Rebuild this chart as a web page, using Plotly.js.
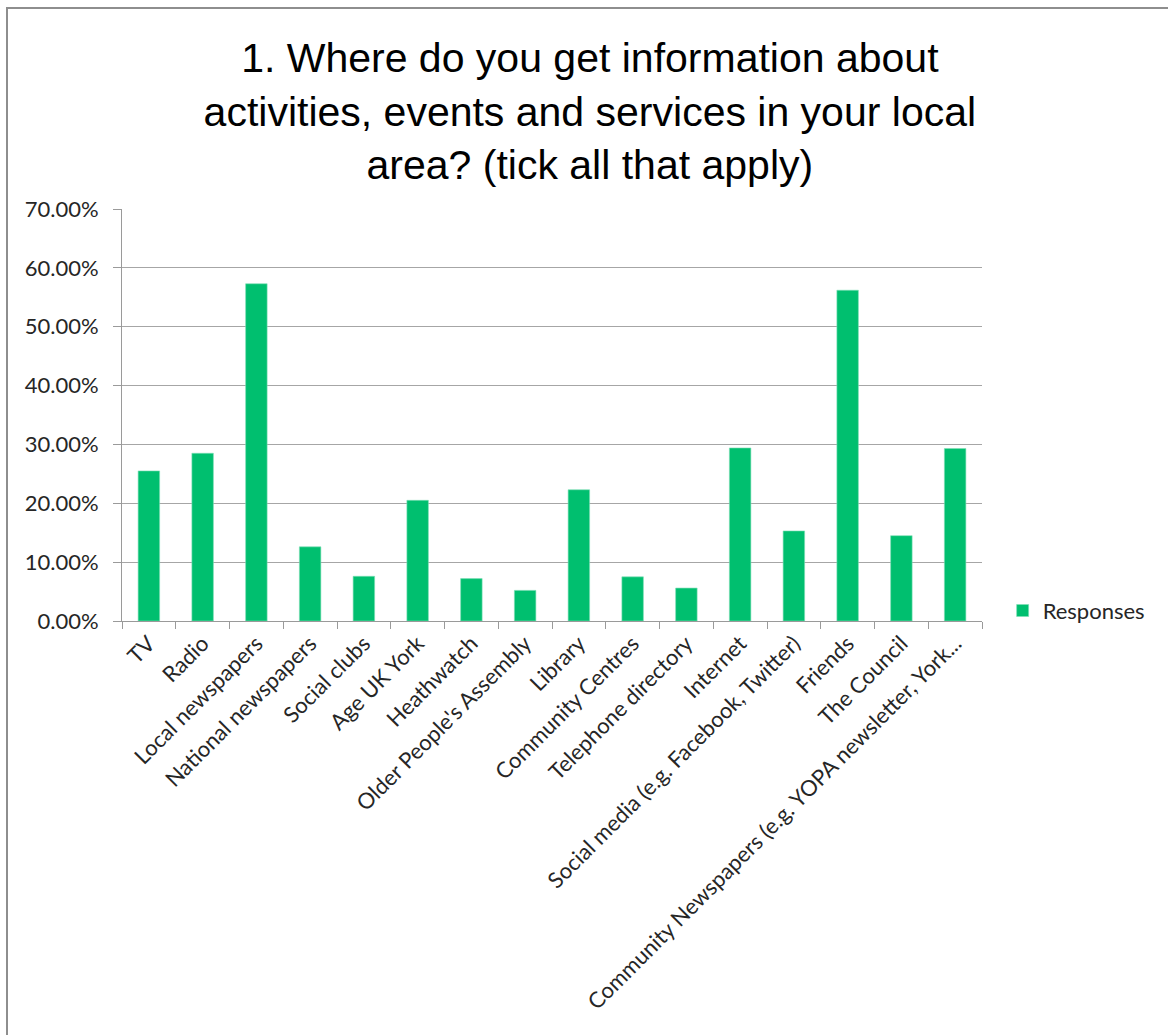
<!DOCTYPE html>
<html>
<head>
<meta charset="utf-8">
<script src="https://cdn.plot.ly/plotly-3.0.1.min.js"></script>
<style>
  html, body { margin: 0; padding: 0; background: #fff; }
  #wrap { position: relative; width: 1168px; height: 1035px; overflow: hidden; }
  #chart { width: 1168px; height: 1035px; }
  #frame { position: absolute; left: 6px; top: 7px; width: 1200px; height: 1100px;
           border: 2px solid #8e8e8e; pointer-events: none; box-sizing: border-box; }
</style>
</head>
<body>
<div id="wrap">
  <div id="chart"></div>
  <div id="frame"></div>
</div>
<script>
const categories = [
  "TV",
  "Radio",
  "Local newspapers",
  "National newspapers",
  "Social clubs",
  "Age UK York",
  "Heathwatch",
  "Older People's Assembly",
  "Library",
  "Community Centres",
  "Telephone directory",
  "Internet",
  "Social media (e.g. Facebook, Twitter)",
  "Friends",
  "The Council",
  "Community Newspapers (e.g. YOPA newsletter, York..."
];
const responses = [
  0.255, 0.285, 0.573, 0.126, 0.076, 0.205, 0.072, 0.052,
  0.223, 0.075, 0.056, 0.294, 0.153, 0.562, 0.145, 0.293
];
const seriesName = "Responses";
const titleText = "1. Where do you get information about<br>activities, events and services in your local<br>area? (tick all that apply)";

const labelFont = { family: "Lato, 'Open Sans', sans-serif", size: 22, color: "#262626" };

Plotly.newPlot("chart", [{
  type: "bar",
  x: categories,
  y: responses,
  name: seriesName,
  marker: { color: "#00bf6f", line: { color: "#7fdfb7", width: 0.6 } },
  showlegend: true
}], {
  width: 1168,
  height: 1035,
  paper_bgcolor: "#ffffff",
  plot_bgcolor: "#ffffff",
  margin: { l: 122, r: 186, t: 209, b: 414 },
  bargap: 0.6,
  title: {
    text: titleText,
    font: { family: "'Liberation Sans', Arial, sans-serif", size: 41, color: "#000000" },
    xref: "container", x: 0.505, xanchor: "center",
    yref: "container", y: 0.93, yanchor: "top"
  },
  xaxis: {
    type: "category",
    tickangle: -45,
    tickfont: labelFont,
    showgrid: false,
    showline: true, linecolor: "#9a9a9a", linewidth: 1,
    ticks: "outside", tickson: "boundaries", ticklen: 7, tickcolor: "#9a9a9a",
    automargin: false
  },
  yaxis: {
    range: [0, 0.7],
    dtick: 0.1,
    tick0: 0,
    tickformat: ".2%",
    tickfont: labelFont,
    ticklabelstandoff: 10,
    showgrid: true, gridcolor: "#a6a6a6", gridwidth: 1,
    showline: true, linecolor: "#9a9a9a", linewidth: 1,
    ticks: "outside", ticklen: 8, tickcolor: "#9a9a9a",
    zeroline: false,
    automargin: false
  },
  legend: {
    x: 1.024, xanchor: "left",
    y: 0.025, yanchor: "middle",
    font: labelFont,
    bgcolor: "rgba(0,0,0,0)"
  }
}, { displayModeBar: false, staticPlot: true });
</script>
</body>
</html>
